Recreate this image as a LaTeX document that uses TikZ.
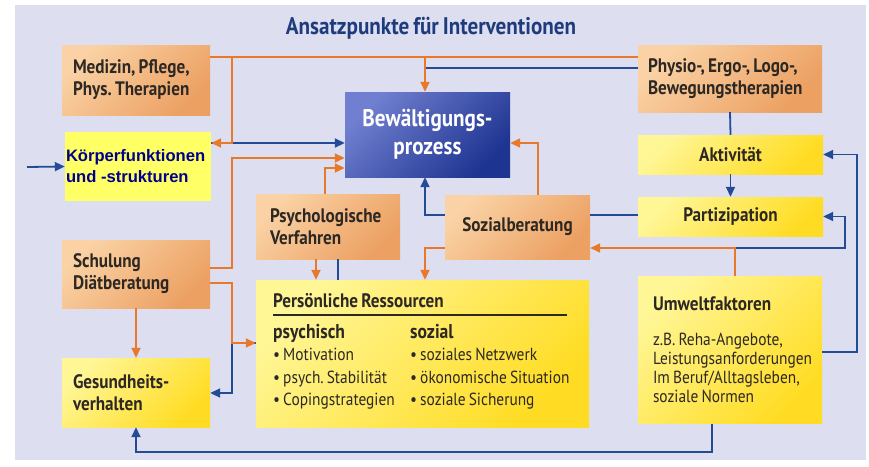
\documentclass[tikz,border=0pt]{standalone}
\usepackage{fontspec}
\setmainfont{PT Sans}[FakeStretch=0.88,WordSpace=0.75]
\newfontfamily\arialfont{Liberation Sans}
\usetikzlibrary{arrows.meta}
\frenchspacing
\definecolor{panel}{RGB}{221,223,240}
\definecolor{obl}{RGB}{250,210,165}
\definecolor{obd}{RGB}{236,160,98}
\definecolor{ybl}{RGB}{255,246,150}
\definecolor{ybd}{RGB}{255,220,35}
\definecolor{oline}{RGB}{232,120,42}
\definecolor{bline}{RGB}{35,75,150}
\definecolor{bewl}{RGB}{112,127,207}
\definecolor{bewd}{RGB}{30,52,145}
\definecolor{txt}{RGB}{45,40,35}
\definecolor{ttl}{RGB}{30,60,125}
\definecolor{kfill}{RGB}{255,255,102}
\definecolor{ktxt}{RGB}{0,0,140}

\begin{document}
\begin{tikzpicture}[x=1pt,y=-1pt,
  ob/.style={rectangle,top color=obl,bottom color=obd,shading angle=45,text=txt,
    font=\fontsize{19.5}{22}\selectfont\bfseries,inner sep=0pt},
  yb/.style={rectangle,top color=ybl,bottom color=ybd,shading angle=45,text=txt,
    font=\fontsize{19.5}{22}\selectfont\bfseries,inner sep=0pt},
  ol/.style={draw=oline,line width=1.8pt},
  ola/.style={ol,-{Triangle[length=10pt,width=9pt]}},
  bl/.style={draw=bline,line width=1.8pt},
  bla/.style={bl,-{Triangle[length=10pt,width=9pt]}}]
  \useasboundingbox (0,0) rectangle (869,466);
  \fill[panel] (15,5) rectangle (866,460);
  \node[text=ttl,font=\fontsize{24}{28}\selectfont\bfseries] (title) at (431,28) {Ansatzpunkte für Interventionen};

  % boxes
  \node[ob,minimum width=148pt,minimum height=70pt,text width=126pt,align=flush left] (med) at (136,80) {Medizin, Pflege,\\Phys. Therapien};
  \node[rectangle,fill=kfill,text=ktxt,font=\arialfont\fontsize{16.6}{21}\selectfont\bfseries,inner sep=0pt,
    minimum width=146pt,minimum height=69pt,text width=144pt,align=flush left] (koerp) at (138,166.5) {Körperfunktionen\\und -strukturen};
  \node[rectangle,top color=bewl,bottom color=bewd,shading angle=45,text=white,font=\fontsize{24}{28}\selectfont\bfseries,
    align=center,minimum width=165pt,minimum height=85pt] (bew) at (427.5,134.5) {Bewältigungs-\\prozess};
  \node[ob,minimum width=184pt,minimum height=67pt,text width=164pt,align=flush left] (phys) at (730,78.5) {Physio-, Ergo-, Logo-,\\Bewegungstherapien};
  \node[yb,minimum width=185pt,minimum height=39pt] (akt) at (730.5,154.5) {Aktivität};
  \node[yb,minimum width=185pt,minimum height=39pt] (part) at (730.5,216.5) {Partizipation};
  \node[ob,minimum width=144pt,minimum height=65pt,text width=116pt,align=flush left] (psy) at (328,226.5) {Psychologische\\Verfahren};
  \node[ob,minimum width=145pt,minimum height=64pt] (soz) at (517.5,227) {Sozialberatung};
  \node[ob,minimum width=148pt,minimum height=68pt,text width=126pt,align=flush left] (schul) at (136,274) {Schulung\\Diätberatung};
  \node[yb,minimum width=333pt,minimum height=147pt] (pers) at (422.5,353.5) {};
  \node[yb,minimum width=148pt,minimum height=69pt,text width=126pt,align=flush left] (ges) at (136,392.5) {Gesundheits-\\verhalten};
  \node[yb,minimum width=184pt,minimum height=147pt,text width=154pt,align=flush left,font=\fontsize{17.5}{19}\selectfont] (umw) at (730,350)
    {{\fontsize{19.5}{19}\selectfont\bfseries Umweltfaktoren}\\[16pt]z.B. Reha-Angebote,\\Leistungsanforderungen\\Im Beruf/Alltagsleben,\\soziale Normen};

  % inside Persoenliche Ressourcen
  \node[anchor=west,inner sep=0pt,text=txt,font=\fontsize{19.5}{22}\selectfont\bfseries] (ptitle) at (273,301) {Persönliche Ressourcen};
  \draw[txt,line width=1.4pt] (273,315) -- (567,315);
  \node[anchor=north west,inner sep=0pt,align=flush left,text=txt,font=\fontsize{17.5}{22.5}\selectfont] (psych) at (273,324)
    {{\fontsize{20}{22}\selectfont\bfseries psychisch}\\• Motivation\\• psych. Stabilität\\• Copingstrategien};
  \node[anchor=north west,inner sep=0pt,align=flush left,text=txt,font=\fontsize{17.5}{22.5}\selectfont] (sozial) at (410,324)
    {{\fontsize{20}{22}\selectfont\bfseries sozial}\\• soziales Netzwerk\\• ökonomische Situation\\• soziale Sicherung};

  % junctions
  \coordinate (jA) at (232,57);
  \coordinate (jB) at (232,143);
  \coordinate (jC) at (232,158);
  \coordinate (jD) at (232,268);
  \coordinate (jE) at (325,168);
  \coordinate (jF) at (425,57);
  \coordinate (jG) at (425,68);
  \coordinate (jH) at (538,143);
  \coordinate (jI) at (425,215);
  \coordinate (jJ) at (857,352);
  \coordinate (jK) at (735,248);
  \coordinate (jL) at (845,248);
  \coordinate (jM) at (425,248);
  \coordinate (jN) at (316,270);
  \coordinate (jO) at (338,270);
  \coordinate (jP) at (232,283);
  \coordinate (jQ) at (232,343);
  \coordinate (jR) at (232,393);
  \coordinate (jS) at (712,452);
  \coordinate (ext) at (27,167);

  % blue connectors
  \draw[bla] (ext) -- (koerp.west);
  \draw[bla] (koerp.east |- jB) -- (bew.west |- jB);
  \draw[bl] (phys.west |- jG) -- (jG);
  \draw[bla] (soz.west |- jI) -- (jI) -- (bew.south -| jI);
  \draw[bl] (soz.east |- jI) -- (part.west |- jI);
  \draw[bl] (phys.south) -- (akt.north);
  \draw[bla] (akt.south) -- (part.north);
  \draw[bla] (umw.east |- jJ) -- (jJ) |- (akt.east);
  \draw[bla] (umw.north -| jK) -- (jK) -- (jL) |- (part.east);
  \draw[bl] (pers.north -| jO) -- (psy.south -| jO);
  \draw[bla] (pers.west |- jQ) -- (jQ) -- (jR) -- (ges.east |- jR);
  \draw[bla] (umw.south -| jS) -- (jS) -| (ges.south);

  % orange connectors
  \draw[ol] (med.east |- jA) -- (phys.west |- jA);
  \draw[ola] (jA) -- (jB) -- (koerp.east |- jB);
  \draw[ola] (schul.east |- jD) -- (jD) -- (jC) -- (bew.west |- jC);
  \draw[ola] (psy.north -| jE) -- (jE) -- (bew.west |- jE);
  \draw[ola] (jF) -- (bew.north -| jF);
  \draw[ola] (soz.north -| jH) -- (jH) -- (bew.east |- jH);
  \draw[ola] (umw.north -| jK) -- (jK) -- (soz.east |- jK);
  \draw[ola] (soz.west |- jM) -- (jM) -- (pers.north -| jM);
  \draw[ola] (psy.south -| jN) -- (pers.north -| jN);
  \draw[ola] (schul.east |- jP) -- (jP) -- (jQ) -- (pers.west |- jQ);
  \draw[ola] (schul.south) -- (ges.north);
\end{tikzpicture}
\end{document}
